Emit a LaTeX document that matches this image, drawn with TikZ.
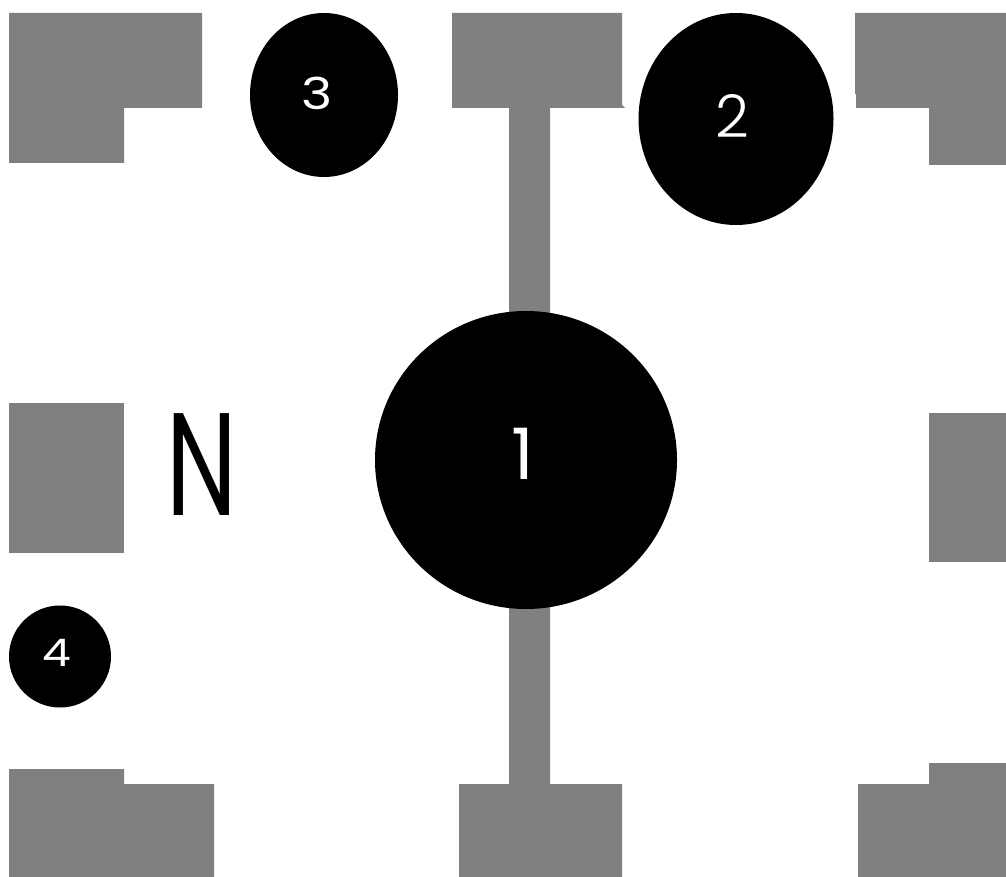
\documentclass[tikz,border=0pt]{standalone}
\usepackage{fontspec}
\setmainfont{Poppins Light}
\newfontfamily\regfont{Poppins}
\usetikzlibrary{shapes.geometric}
\definecolor{gray50}{HTML}{808080}
\tikzset{
 gr/.style={fill=gray50,draw=none},
 blob/.style={fill=black,draw=none,ellipse,inner sep=0pt,text=white}
}
\begin{document}
\begin{tikzpicture}[x=1pt,y=-1pt]
\useasboundingbox[fill=white] (0,0) rectangle (1006,877);
\fill[gr] (9,13) -- (202,13) -- (202,108) -- (124,108) -- (124,163) -- (9,163) -- cycle;
\fill[gr] (452,13) -- (622,13) -- (622,105) -- (625,108) -- (550,108) -- (550,320) -- (509,320) -- (509,108) -- (452,108) -- cycle;
\fill[gr] (855,13) -- (1006,13) -- (1006,165) -- (929,165) -- (929,108) -- (856,108) -- (856,94) -- (855,94) -- cycle;
\fill[gr] (9,403) rectangle (124,553);
\fill[gr] (929,413) rectangle (1006,562);
\fill[gr] (9,769) -- (124,769) -- (124,784) -- (214,784) -- (214,877) -- (9,877) -- cycle;
\fill[gr] (509,600) -- (550,600) -- (550,784) -- (622,784) -- (622,877) -- (459,877) -- (459,784) -- (509,784) -- cycle;
\fill[gr] (858,784) -- (929,784) -- (929,763) -- (1006,763) -- (1006,877) -- (858,877) -- cycle;
\node[blob,minimum width=302pt,minimum height=298pt] (n1) at (526,460) {};
\node[blob,minimum width=195pt,minimum height=212pt] (n2) at (736,119) {};
\node[blob,minimum width=148pt,minimum height=164pt] (n3) at (324,95) {};
\node[blob,minimum width=102pt,minimum height=102pt] (n4) at (60,656.5) {};
\node[text=white,font=\regfont\fontsize{71}{71}\selectfont] (l1) at (523,454) {1};
\node[text=white,font=\fontsize{59}{59}\selectfont] (l2) at (732,115.5) {2};
\node[text=white,font=\regfont\fontsize{44}{44}\selectfont,xscale=1.2] (l3) at (317,93) {3};
\node[text=white,font=\regfont\fontsize{38}{38}\selectfont,xscale=1.2] (l4) at (57,653) {4};
\node[text=black,font=\regfont\fontsize{146}{146}\selectfont,xscale=.69] (ln) at (201.5,465) {N};
\end{tikzpicture}
\end{document}
